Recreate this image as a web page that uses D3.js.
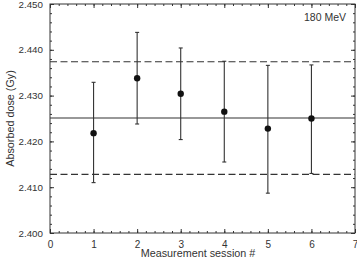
<!DOCTYPE html>
<html>
<head>
<meta charset="utf-8">
<script src="https://cdn.jsdelivr.net/npm/d3@7"></script>
<style>
  body { margin: 0; background: #fff; }
  svg text { font-family: "Liberation Sans", Arial, sans-serif; fill: #333; }
</style>
</head>
<body>
<script>
// session data
const sessions = [1, 2, 3, 4, 5, 6];
const doses = [2.4218, 2.4338, 2.4304, 2.4265, 2.4228, 2.4250];
const errLow = [2.4110, 2.4238, 2.4204, 2.4155, 2.4087, 2.4130];
const errHigh = [2.4329, 2.4438, 2.4404, 2.4375, 2.4366, 2.4367];

const meanDose = 2.4251;
const bandLow = 2.4128;
const bandHigh = 2.4374;

const xTicks = [0, 1, 2, 3, 4, 5, 6, 7];
const yTicks = [2.400, 2.410, 2.420, 2.430, 2.440, 2.450];

const width = 357, height = 258;
const mLeft = 50, mRight = 355, mTop = 4, mBottom = 233;

const svg = d3.select("body").append("svg")
    .attr("width", width)
    .attr("height", height);

const x = d3.scaleLinear().domain([0, 7]).range([mLeft, mRight]);
const y = d3.scaleLinear().domain([2.400, 2.450]).range([mBottom, mTop]);

const lineCol = "#333";

// minor ticks
const xMinor = d3.range(0, 7.001, 0.2);
const yMinor = d3.range(2.400, 2.4501, 0.002);

// bottom axis (ticks inward)
svg.append("g")
    .attr("transform", "translate(0," + mBottom + ")")
    .call(d3.axisBottom(x).tickValues(xMinor).tickSize(-2).tickFormat(""))
    .call(g => g.select(".domain").remove());
svg.append("g")
    .attr("transform", "translate(0," + mBottom + ")")
    .call(d3.axisBottom(x).tickValues(xTicks).tickSize(-4).tickPadding(8).tickFormat(d3.format("d")))
    .call(g => g.select(".domain").remove())
    .call(g => g.selectAll("text").attr("font-size", 10));

// top axis mirror
svg.append("g")
    .attr("transform", "translate(0," + mTop + ")")
    .call(d3.axisTop(x).tickValues(xMinor).tickSize(-2).tickFormat(""))
    .call(g => g.select(".domain").remove());
svg.append("g")
    .attr("transform", "translate(0," + mTop + ")")
    .call(d3.axisTop(x).tickValues(xTicks).tickSize(-4).tickFormat(""))
    .call(g => g.select(".domain").remove());

// left axis
svg.append("g")
    .attr("transform", "translate(" + mLeft + ",0)")
    .call(d3.axisLeft(y).tickValues(yMinor).tickSize(-2).tickFormat(""))
    .call(g => g.select(".domain").remove());
svg.append("g")
    .attr("transform", "translate(" + mLeft + ",0)")
    .call(d3.axisLeft(y).tickValues(yTicks).tickSize(-4).tickPadding(7).tickFormat(d3.format(".3f")))
    .call(g => g.select(".domain").remove())
    .call(g => g.selectAll("text").attr("font-size", 9.8));

// right axis mirror
svg.append("g")
    .attr("transform", "translate(" + mRight + ",0)")
    .call(d3.axisRight(y).tickValues(yMinor).tickSize(-2).tickFormat(""))
    .call(g => g.select(".domain").remove());
svg.append("g")
    .attr("transform", "translate(" + mRight + ",0)")
    .call(d3.axisRight(y).tickValues(yTicks).tickSize(-4).tickFormat(""))
    .call(g => g.select(".domain").remove());

svg.selectAll(".tick line").attr("stroke", lineCol);

// frame
svg.append("rect")
    .attr("x", mLeft).attr("y", mTop)
    .attr("width", mRight - mLeft).attr("height", mBottom - mTop)
    .attr("fill", "none").attr("stroke", lineCol).attr("stroke-width", 1);

// mean and band lines
svg.append("line")
    .attr("x1", mLeft).attr("x2", mRight)
    .attr("y1", y(meanDose)).attr("y2", y(meanDose))
    .attr("stroke", lineCol).attr("stroke-width", 1.1);

[bandLow, bandHigh].forEach(v => {
  svg.append("line")
      .attr("x1", mLeft).attr("x2", mRight)
      .attr("y1", y(v)).attr("y2", y(v))
      .attr("stroke", lineCol).attr("stroke-width", 1.1)
      .attr("stroke-dasharray", "7,3.5");
});

// error bars
const pts = sessions.map((s, i) => ({ s: s, v: doses[i], lo: errLow[i], hi: errHigh[i] }));

const bars = svg.append("g");
bars.selectAll(".err")
    .data(pts)
    .enter()
    .append("line")
    .attr("x1", d => x(d.s)).attr("x2", d => x(d.s))
    .attr("y1", d => y(d.lo)).attr("y2", d => y(d.hi))
    .attr("stroke", lineCol).attr("stroke-width", 1.1);

bars.selectAll(".capHi")
    .data(pts)
    .enter()
    .append("line")
    .attr("x1", d => x(d.s) - 2).attr("x2", d => x(d.s) + 2)
    .attr("y1", d => y(d.hi)).attr("y2", d => y(d.hi))
    .attr("stroke", lineCol).attr("stroke-width", 1.1);

bars.selectAll(".capLo")
    .data(pts)
    .enter()
    .append("line")
    .attr("x1", d => x(d.s) - 2).attr("x2", d => x(d.s) + 2)
    .attr("y1", d => y(d.lo)).attr("y2", d => y(d.lo))
    .attr("stroke", lineCol).attr("stroke-width", 1.1);

svg.selectAll(".dot")
    .data(pts)
    .enter()
    .append("circle")
    .attr("cx", d => x(d.s))
    .attr("cy", d => y(d.v))
    .attr("r", 3.2)
    .attr("fill", "#111");

// labels
svg.append("text")
    .attr("x", 198)
    .attr("y", 256.5)
    .attr("text-anchor", "middle")
    .attr("font-size", 10.8)
    .text("Measurement session #");

svg.append("text")
    .attr("transform", "translate(10," + ((mTop + mBottom) / 2) + ") rotate(-90)")
    .attr("text-anchor", "middle")
    .attr("dy", "0.35em")
    .attr("font-size", 10.8)
    .text("Absorbed dose (Gy)");

svg.append("text")
    .attr("x", 346)
    .attr("y", 21)
    .attr("text-anchor", "end")
    .attr("font-size", 10.5)
    .text("180 MeV");
</script>
</body>
</html>
